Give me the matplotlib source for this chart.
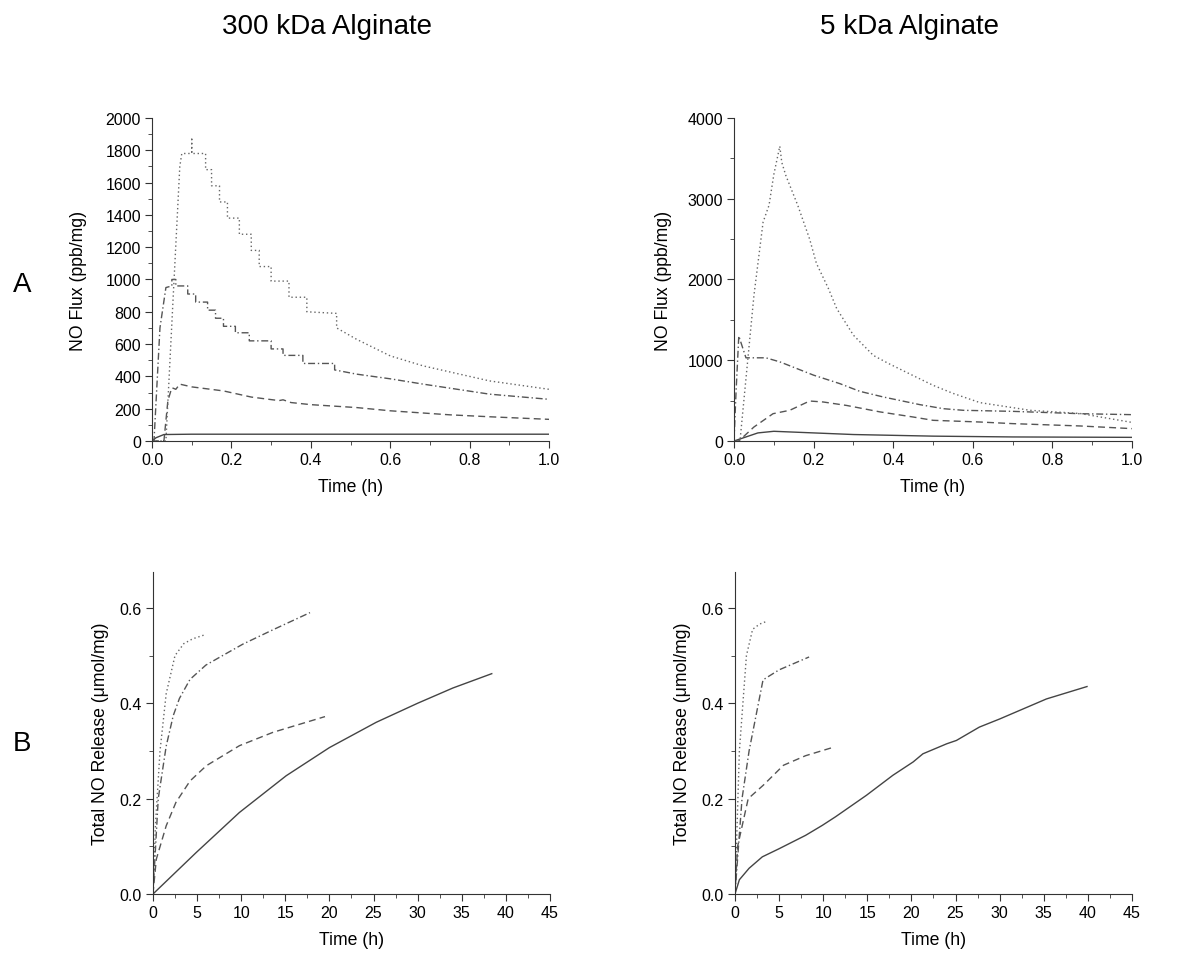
import matplotlib
matplotlib.use('Agg')
import matplotlib.pyplot as plt
from matplotlib.ticker import MultipleLocator

plt.rcParams['font.family'] = ['Liberation Sans', 'DejaVu Sans']

# ---- A: NO flux, 300 kDa alginate ----
a300_dot_t = [0, 0.035, 0.07, 0.075, 0.10, 0.10, 0.10, 0.135, 0.135, 0.15, 0.15, 0.17, 0.17, 0.19, 0.19,
              0.22, 0.22, 0.25, 0.25, 0.27, 0.27, 0.30, 0.30, 0.345, 0.345, 0.39, 0.39, 0.465, 0.465,
              0.515, 0.60, 0.683, 0.85, 1.0]
a300_dot_v = [0, 0, 1700, 1780, 1780, 1880, 1780, 1780, 1680, 1680, 1580, 1580, 1480, 1480, 1380,
              1380, 1280, 1280, 1180, 1180, 1080, 1080, 990, 990, 890, 890, 800, 790, 700,
              630, 527, 465, 372, 320]
a300_dd_t = [0, 0.005, 0.02, 0.035, 0.05, 0.05, 0.06, 0.06, 0.09, 0.09, 0.11, 0.11, 0.14, 0.14, 0.16, 0.16,
             0.18, 0.18, 0.21, 0.21, 0.245, 0.245, 0.30, 0.30, 0.33, 0.33, 0.38, 0.38, 0.46, 0.46,
             0.515, 0.60, 0.683, 0.85, 1.0]
a300_dd_v = [0, 0, 700, 950, 960, 1000, 1000, 960, 960, 910, 910, 860, 860, 810, 810, 760,
             760, 710, 710, 670, 670, 620, 620, 570, 570, 530, 530, 480, 480, 440,
             414, 385, 352, 290, 258]
a300_dash_t = [0, 0.03, 0.04, 0.05, 0.06, 0.07, 0.10, 0.18, 0.25, 0.32, 0.33, 0.35, 0.40, 0.515, 0.60, 0.75, 0.85, 1.0]
a300_dash_v = [0, 0, 250, 330, 320, 352, 335, 310, 272, 250, 255, 238, 225, 207, 187, 162, 150, 134]
a300_sol_t = [0, 0.01, 0.03, 0.1, 0.5, 1.0]
a300_sol_v = [0, 20, 40, 42, 42, 42]

# ---- A: NO flux, 5 kDa alginate ----
a5_dot_t = [0, 0.015, 0.05, 0.073, 0.088, 0.10, 0.115, 0.12, 0.13, 0.16, 0.19, 0.207, 0.237, 0.258,
            0.30, 0.35, 0.388, 0.45, 0.50, 0.55, 0.618, 0.744, 0.87, 1.0]
a5_dot_v = [0, 0, 1800, 2710, 2920, 3300, 3650, 3450, 3290, 2920, 2500, 2200, 1890, 1640,
            1310, 1060, 960, 810, 690, 590, 475, 380, 340, 230]
a5_dd_t = [0, 0.005, 0.012, 0.03, 0.08, 0.115, 0.2, 0.266, 0.316, 0.375, 0.467, 0.526, 0.576, 0.7, 0.87, 1.0]
a5_dd_v = [0, 600, 1300, 1030, 1030, 980, 815, 710, 615, 545, 450, 400, 380, 367, 338, 326]
a5_dash_t = [0, 0.012, 0.05, 0.098, 0.14, 0.19, 0.224, 0.283, 0.367, 0.45, 0.5, 0.618, 0.7, 0.87, 1.0]
a5_dash_v = [0, 0, 173, 338, 380, 495, 483, 440, 360, 297, 256, 235, 215, 186, 153]
a5_sol_t = [0, 0.03, 0.06, 0.1, 0.2, 0.3, 0.4, 0.5, 0.7, 1.0]
a5_sol_v = [0, 50, 100, 120, 100, 80, 70, 60, 50, 45]

# ---- B: total NO release, 300 kDa ----
b300_dot_t = [0, 0.3, 0.8, 1.5, 2.5, 3.5, 4.5, 5.8]
b300_dot_v = [0, 0.15, 0.3, 0.42, 0.5, 0.525, 0.535, 0.543]
b300_dd_t = [0, 0.6, 1.5, 2.3, 3.0, 4.2, 6.0, 7.9, 10.2, 13.6, 17.8]
b300_dd_v = [0, 0.2, 0.31, 0.374, 0.41, 0.45, 0.48, 0.5, 0.524, 0.554, 0.59]
b300_dash_t = [0, 0.38, 1.5, 2.6, 4.2, 6.05, 9.8, 13.6, 19.5]
b300_dash_v = [0, 0.073, 0.143, 0.192, 0.237, 0.269, 0.311, 0.339, 0.372]
b300_sol_t = [0, 4.9, 9.8, 15.1, 20, 25.3, 30, 34, 38.4]
b300_sol_v = [0, 0.087, 0.171, 0.248, 0.307, 0.36, 0.40, 0.432, 0.462]

# ---- B: total NO release, 5 kDa ----
b5_dot_t = [0, 0.5, 1.3, 2.0, 2.8, 3.5]
b5_dot_v = [0, 0.3, 0.5, 0.555, 0.566, 0.571]
b5_dd_t = [0, 0.8, 1.6, 3.18, 5.0, 8.4]
b5_dd_v = [0, 0.2, 0.3, 0.449, 0.47, 0.497]
b5_dash_t = [0, 0.3, 1.5, 3.2, 5.5, 8, 11.2]
b5_dash_v = [0, 0.1, 0.2, 0.228, 0.27, 0.29, 0.308]
b5_sol_t = [0, 0.5, 1.6, 3.1, 5, 8, 9.9, 11.4, 14.9, 17.9, 20.2, 21.3, 24, 25.1, 27.7, 30, 35.3, 39.9]
b5_sol_v = [0, 0.03, 0.054, 0.078, 0.095, 0.123, 0.144, 0.162, 0.207, 0.249, 0.277, 0.294, 0.315,
            0.322, 0.35, 0.367, 0.409, 0.435]

styles = {
    'sol': dict(ls='-', color='#444444', lw=1.0),
    'dash': dict(ls=(0, (5, 3)), color='#555555', lw=1.0),
    'dd': dict(ls=(0, (5, 2, 1, 2)), color='#555555', lw=1.0),
    'dot': dict(ls=(0, (1, 2)), color='#666666', lw=1.0),
}

W, H = 1182, 954


def style_axes(ax):
    ax.spines['top'].set_visible(False)
    ax.spines['right'].set_visible(False)
    for s in ['left', 'bottom']:
        ax.spines[s].set_color('#333333')
    ax.tick_params(direction='out', which='major', length=5, labelsize=11.5, color='#333333', pad=3)
    ax.tick_params(direction='out', which='minor', length=3, color='#333333')
    ax.set_xlabel('Time (h)', fontsize=12.7)
    ax.xaxis.set_label_coords(0.5, -37 / (ax.get_position().height * H))


fig = plt.figure(figsize=(11.82, 9.54), dpi=100)

ax1 = fig.add_axes([0.1286, 0.5367, 0.3359, 0.3386])
ax2 = fig.add_axes([0.621, 0.5367, 0.3367, 0.3386])
ax3 = fig.add_axes([0.1294, 0.0618, 0.3359, 0.3375])
ax4 = fig.add_axes([0.6218, 0.0618, 0.3359, 0.3375])

ax1.plot(a300_sol_t, a300_sol_v, **styles['sol'])
ax1.plot(a300_dash_t, a300_dash_v, **styles['dash'])
ax1.plot(a300_dd_t, a300_dd_v, **styles['dd'])
ax1.plot(a300_dot_t, a300_dot_v, **styles['dot'])
ax1.set_xlim(0, 1.0)
ax1.set_ylim(0, 2000)
ax1.xaxis.set_major_locator(MultipleLocator(0.2))
ax1.xaxis.set_minor_locator(MultipleLocator(0.1))
ax1.yaxis.set_major_locator(MultipleLocator(200))
ax1.yaxis.set_minor_locator(MultipleLocator(100))
ax1.set_ylabel('NO Flux (ppb/mg)', fontsize=12.7)

ax2.plot(a5_sol_t, a5_sol_v, **styles['sol'])
ax2.plot(a5_dash_t, a5_dash_v, **styles['dash'])
ax2.plot(a5_dd_t, a5_dd_v, **styles['dd'])
ax2.plot(a5_dot_t, a5_dot_v, **styles['dot'])
ax2.set_xlim(0, 1.0)
ax2.set_ylim(0, 4000)
ax2.xaxis.set_major_locator(MultipleLocator(0.2))
ax2.xaxis.set_minor_locator(MultipleLocator(0.1))
ax2.yaxis.set_major_locator(MultipleLocator(1000))
ax2.yaxis.set_minor_locator(MultipleLocator(500))
ax2.set_ylabel('NO Flux (ppb/mg)', fontsize=12.7)

for ax, d in [(ax3, 'b300'), (ax4, 'b5')]:
    data = globals()
    for k in ['sol', 'dash', 'dd', 'dot']:
        ax.plot(data[d + '_' + k + '_t'], data[d + '_' + k + '_v'], **styles[k])
    ax.set_xlim(0, 45)
    ax.set_ylim(0, 0.675)
    ax.xaxis.set_major_locator(MultipleLocator(5))
    ax.xaxis.set_minor_locator(MultipleLocator(2.5))
    ax.yaxis.set_major_locator(MultipleLocator(0.2))
    ax.yaxis.set_minor_locator(MultipleLocator(0.1))
    ax.set_ylabel('Total NO Release (\u03bcmol/mg)', fontsize=12.7)

for ax in [ax1, ax2, ax3, ax4]:
    style_axes(ax)

# y label offsets (pixels from axis to right edge of label)
for ax, off in [(ax1, 65), (ax2, 62), (ax3, 44), (ax4, 44)]:
    ax.yaxis.set_label_coords(-off / (ax.get_position().width * W), 0.5)

fig.text(327 / W, 1 - 27 / H, '300 kDa Alginate', ha='center', va='center', fontsize=20)
fig.text(910 / W, 1 - 27 / H, '5 kDa Alginate', ha='center', va='center', fontsize=20)
fig.text(22 / W, 1 - 285 / H, 'A', ha='center', va='center', fontsize=20)
fig.text(22 / W, 1 - 744 / H, 'B', ha='center', va='center', fontsize=20)

fig.savefig('out.png', dpi=100)
